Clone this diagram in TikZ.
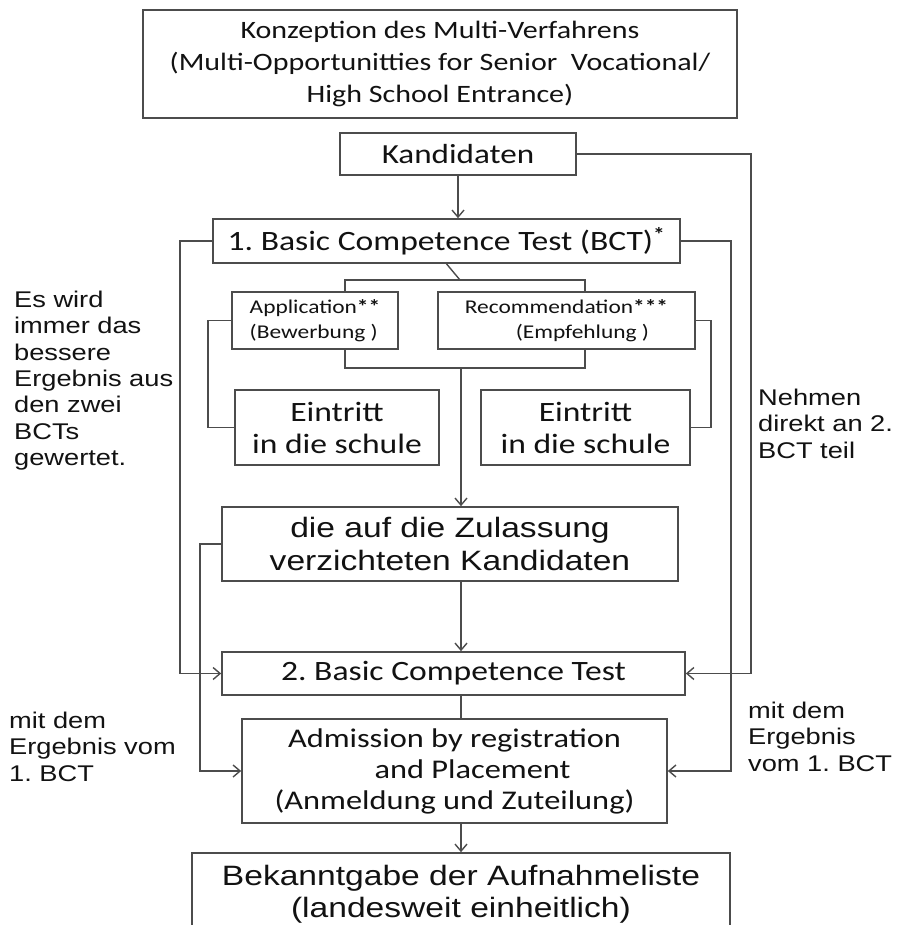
\documentclass[tikz,border=0pt]{standalone}
\usepackage{fontspec}
\setmainfont{Carlito}[FakeStretch=1.2]
\newfontfamily\arialf{Liberation Sans}[FakeStretch=1.2]
\usetikzlibrary{arrows.meta}
\definecolor{edge}{HTML}{4C4C4C}
\definecolor{ink}{HTML}{121212}
\newcommand\fsz[2]{\fontsize{#1}{#2}\selectfont}
\frenchspacing

\begin{document}
\begin{tikzpicture}[x=1pt,y=-1pt,
  box/.style={draw=edge, line width=1.7pt, inner sep=0pt, align=center, text=ink},
  link/.style={draw=edge, line width=1.4pt},
  arr/.style={link, -{Straight Barb[length=7pt,width=12pt,line width=1.4pt]}},
  note/.style={inner sep=0pt, anchor=north west, align=left, text=ink, font=\arialf\fsz{22.7}{26.3}}]
\useasboundingbox (0,0) rectangle (900,925);
\clip (0,0) rectangle (900,925);
\fill[white] (0,0) rectangle (900,925);

% boxes
\node[box, minimum width=594, minimum height=108, font=\fsz{25}{32}] (title) at (440,64)
  {Konzeption des Multi-Verfahrens\\(Multi-Opportunitties for Senior\ \ Vocational/\\High School Entrance)};
\node[box, minimum width=236, minimum height=42, font=\fsz{27.6}{33}] (kand) at (458,154) {Kandidaten};
\node[box, minimum width=467, minimum height=44, font=\fsz{28}{34}] (bct1) at (446.5,241)
  {1. Basic Competence Test (BCT)\textsuperscript{\textbf{*}}};
\node[box, minimum width=166, minimum height=57, align=left, font=\fsz{19.5}{25}] (app) at (315,320.5)
  {Application\textbf{**}\\(Bewerbung )};
\node[box, minimum width=257, minimum height=57, align=left, font=\fsz{19.5}{25}] (rec) at (566.5,320.5)
  {Recommendation\textbf{***}\\\hspace*{51pt}(Empfehlung )};
\node[box, minimum width=204, minimum height=75, font=\fsz{28}{32}] (entL) at (337,427.5) {Eintritt\\in die schule};
\node[box, minimum width=209, minimum height=75, font=\fsz{28}{32}] (entR) at (585.5,427.5) {Eintritt\\in die schule};
\node[box, minimum width=456, minimum height=74, font=\arialf\fsz{28}{33}] (verz) at (450,544)
  {die auf die Zulassung\\verzichteten Kandidaten};
\node[box, minimum width=463, minimum height=43, font=\fsz{28}{34}] (bct2) at (453.5,673.5) {2. Basic Competence Test};
\node[box, minimum width=425, minimum height=104, font=\fsz{27}{31}] (adm) at (454.5,771)
  {Admission by registration\\\hspace*{36pt}and Placement\\(Anmeldung und Zuteilung)};
\node[box, minimum width=538, minimum height=82, font=\arialf\fsz{28}{32}] (bek) at (461,894)
  {Bekanntgabe der Aufnahmeliste\\(landesweit einheitlich)};

% side notes
\node[note] (n1) at (14,291) {Es wird\\immer das\\bessere\\Ergebnis aus\\den zwei\\BCTs\\gewertet.};
\node[note] (n2) at (758,389) {Nehmen\\direkt an 2.\\BCT teil};
\node[note] (n3) at (9,712) {mit dem\\Ergebnis vom\\1. BCT};
\node[note] (n4) at (748,702) {mit dem\\Ergebnis\\vom 1. BCT};

% branching points
\coordinate (split) at (460,280);
\coordinate (tl) at (345,280);
\coordinate (tr) at (585,280);
\coordinate (bl) at (345,368);
\coordinate (br) at (585,368);
\coordinate (bm) at (461,368);

% connectors
\draw[arr] (kand.south) -- (kand.south |- bct1.north);
\draw[link] (bct1.south) -- (split);
\draw[link] (app.north -| tl) -- (tl) -- (tr) -- (rec.north -| tr);
\draw[link] (app.south -| bl) -- (bl) -- (br) -- (rec.south -| br);
\draw[link] (app.west) -- ++(-23,0) |- (entL.west);
\draw[link] (rec.east) -- ++(15,0) |- (entR.east);
\draw[arr] (bm) -- (bm |- verz.north);
\draw[arr] (verz.south -| bm) -- (bm |- bct2.north);
\draw[link] (bct2.south -| bm) -- (bm |- adm.north);
\draw[arr] (adm.south -| bm) -- (bm |- bek.north);
\draw[arr] (bct1.west) -- ++(-32,0) |- (bct2.west);
\draw[arr] (verz.west) -- ++(-21,0) |- (adm.west);
\draw[arr] (kand.east) -- ++(174,0) |- (bct2.east);
\draw[arr] (bct1.east) -- ++(50,0) |- (adm.east);
\end{tikzpicture}
\end{document}
